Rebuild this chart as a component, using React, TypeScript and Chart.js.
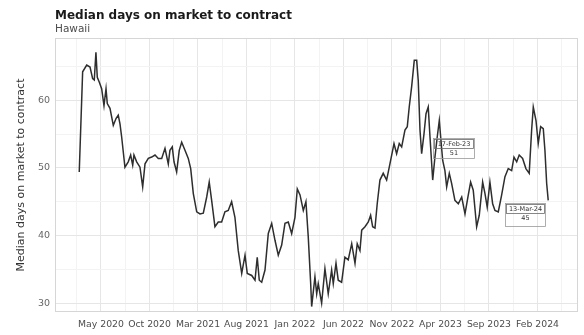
import { useEffect, useRef } from 'react';
import { Chart, registerables } from 'chart.js';

Chart.register(...registerables);

const chartTitle = 'Median days on market to contract';
const chartSubtitle = 'Hawaii';
const yAxisTitle = 'Median days on market to contract';

// x position of each observation, in months since Jan 2020
const monthIndex = [
  1.76, 2.11, 2.53, 2.87, 3.14, 3.31, 3.48, 3.62, 3.82, 4.07,
  4.31, 4.52, 4.65, 4.93, 5.27, 5.55, 5.78, 5.96, 6.13, 6.47,
  6.81, 7.06, 7.27, 7.4, 7.68, 8.02, 8.3, 8.54, 8.88, 9.23,
  9.57, 9.91, 10.26, 10.6, 10.94, 11.11, 11.35, 11.53, 11.8, 12.07,
  12.32, 12.66, 13.0, 13.25, 13.52, 13.87, 14.21, 14.55, 14.9, 15.16,
  15.41, 15.75, 16.09, 16.44, 16.78, 17.12, 17.47, 17.81, 18.15, 18.51,
  18.85, 19.08, 19.54, 19.88, 20.11, 20.32, 20.57, 20.91, 21.25, 21.6,
  21.94, 22.28, 22.63, 22.97, 23.31, 23.66, 24.0, 24.24, 24.52, 24.86,
  25.13, 25.37, 25.62, 25.72, 26.06, 26.24, 26.4, 26.75, 27.09, 27.43,
  27.78, 27.95, 28.23, 28.46, 28.81, 29.15, 29.49, 29.85, 30.19, 30.42,
  30.7, 30.88, 31.22, 31.56, 31.8, 32.01, 32.25, 32.48, 32.76, 33.1,
  33.45, 33.79, 34.21, 34.48, 34.75, 35.0, 35.34, 35.58, 35.78, 36.03,
  36.3, 36.55, 36.71, 36.89, 37.06, 37.3, 37.51, 37.74, 37.92, 38.2,
  38.43, 38.67, 38.88, 39.02, 39.23, 39.46, 39.64, 39.91, 40.15, 40.49,
  40.84, 41.19, 41.53, 41.87, 42.11, 42.38, 42.73, 43.0, 43.35, 43.59,
  43.82, 44.1, 44.38, 44.62, 44.96, 45.31, 45.65, 45.99, 46.34, 46.58,
  46.86, 47.12, 47.47, 47.81, 48.15, 48.4, 48.57, 48.85, 49.08, 49.33,
  49.6, 49.77, 49.95, 50.11,
];

const medianDays = [
  49.4, 64.2, 65.2, 64.9, 63.2, 63.0, 67.1, 63.4, 62.7, 61.7,
  59.2, 61.7, 59.5, 58.8, 56.3, 57.3, 57.8, 56.5, 54.6, 50.1,
  50.9, 51.9, 50.4, 51.9, 50.9, 50.1, 47.2, 50.6, 51.4, 51.6,
  51.9, 51.4, 51.4, 52.9, 50.6, 52.6, 53.1, 50.9, 49.4, 52.6,
  53.8, 52.6, 51.4, 49.9, 46.2, 43.5, 43.2, 43.3, 45.7, 47.9,
  45.2, 41.3, 42.0, 42.0, 43.5, 43.7, 45.0, 42.7, 37.8, 34.4,
  37.1, 34.4, 34.1, 33.4, 36.8, 33.4, 33.1, 34.9, 40.3, 41.8,
  39.3, 37.1, 38.6, 41.8, 42.0, 40.3, 42.7, 46.9, 46.0, 43.7,
  45.0, 39.8, 32.9, 29.5, 33.9, 31.4, 32.9, 30.0, 35.1, 31.4,
  34.9, 32.9, 35.9, 33.4, 33.1, 36.8, 36.4, 38.8, 35.9, 38.8,
  37.8, 40.8, 41.3, 42.0, 43.0, 41.3, 41.1, 44.7, 48.2, 49.2,
  48.2, 50.6, 53.6, 52.1, 53.6, 53.1, 55.6, 56.1, 59.0, 62.0,
  65.9, 65.9, 62.9, 55.6, 52.1, 55.0, 58.0, 59.0, 54.6, 48.2,
  51.6, 54.6, 57.0, 54.6, 51.1, 49.6, 47.2, 49.2, 47.7, 45.2,
  44.7, 45.7, 43.2, 46.0, 47.9, 46.7, 41.3, 43.0, 47.9, 46.2,
  44.2, 47.9, 44.7, 43.7, 43.5, 46.0, 48.7, 49.9, 49.6, 51.6,
  50.9, 51.9, 51.4, 49.9, 49.2, 55.6, 59.0, 57.0, 53.6, 56.1,
  55.8, 52.6, 47.7, 45.2,
];

const xTickMonths = [4, 9, 14, 19, 24, 29, 34, 39, 44, 49];
const xTickLabels = [
  'May 2020', 'Oct 2020', 'Mar 2021', 'Aug 2021', 'Jan 2022',
  'Jun 2022', 'Nov 2022', 'Apr 2023', 'Sep 2023', 'Feb 2024',
];
const yTickValues = [30, 40, 50, 60];

const annotationMonths = [38.43, 50.11];
const annotationValues = [51.6, 45.2];
const annotationDates = ['17-Feb-23', '13-Mar-24'];
const annotationTexts = ['51', '45'];

const FONT = '"DejaVu Sans", "Noto Sans", sans-serif';

export default function App() {
  const canvasRef = useRef<HTMLCanvasElement | null>(null);

  useEffect(() => {
    const canvas = canvasRef.current;
    if (!canvas) return;

    // box placement relative to the annotated point: [dx, dy, w, h]
    const boxGeom = [
      [-2, -19, 41, 20],
      [-43, 3, 40, 23],
    ];

    const decor = {
      id: 'decor',
      beforeDraw(chart: any) {
        const { ctx, width, height } = chart;
        ctx.save();
        ctx.fillStyle = '#ffffff';
        ctx.fillRect(0, 0, width, height);
        ctx.restore();
      },
      beforeDatasetsDraw(chart: any) {
        const { ctx, chartArea } = chart;
        ctx.save();
        ctx.strokeStyle = '#d6d6d6';
        ctx.lineWidth = 1;
        ctx.strokeRect(
          Math.round(chartArea.left) + 0.5,
          Math.round(chartArea.top) + 0.5,
          Math.round(chartArea.width) - 1,
          Math.round(chartArea.height) - 1
        );
        ctx.restore();
      },
      afterDraw(chart: any) {
        const { ctx } = chart;
        const xs = chart.scales.x;
        const ys = chart.scales.y;
        ctx.save();
        ctx.textBaseline = 'alphabetic';
        ctx.textAlign = 'left';
        ctx.fillStyle = '#1a1a1a';
        ctx.font = `bold 12px ${FONT}`;
        ctx.fillText(chartTitle, 55, 19);
        ctx.fillStyle = '#4d4d4d';
        ctx.font = `10.5px ${FONT}`;
        ctx.fillText(chartSubtitle, 55, 32);

        annotationMonths.forEach((m, i) => {
          const px = xs.getPixelForValue(m);
          const py = ys.getPixelForValue(annotationValues[i]);
          const [dx, dy, w, h] = boxGeom[i];
          const bx = Math.round(px + dx) + 0.5;
          const by = Math.round(py + dy) + 0.5;
          ctx.strokeStyle = '#9a9a9a';
          ctx.lineWidth = 0.8;
          ctx.strokeRect(bx, by, w, h);
          ctx.strokeStyle = '#6a6a6a';
          ctx.strokeRect(bx + 1, by + 1, w - 2, 9);
          ctx.fillStyle = '#333333';
          ctx.font = `6.5px ${FONT}`;
          ctx.textAlign = 'center';
          ctx.textBaseline = 'middle';
          ctx.fillText(annotationDates[i], bx + w / 2, by + 5.5);
          ctx.fillText(annotationTexts[i], bx + w / 2, by + 15);
        });
        ctx.restore();
      },
    };

    const chart = new Chart(canvas, {
      type: 'line',
      data: {
        datasets: [
          {
            label: chartTitle,
            data: monthIndex.map((m, i) => ({ x: m, y: medianDays[i] })),
            borderColor: '#2e2e2e',
            borderWidth: 1.5,
            pointRadius: 0,
            tension: 0,
            fill: false,
          },
        ],
      },
      options: {
        animation: false,
        responsive: false,
        devicePixelRatio: 1,
        layout: { padding: { top: 38, right: 6, bottom: 0, left: 0 } },
        plugins: {
          legend: { display: false },
          title: { display: false },
          tooltip: { enabled: false },
        },
        scales: {
          x: {
            type: 'linear',
            min: -0.74,
            max: 53.18,
            afterBuildTicks: (scale: any) => {
              const t: any[] = [];
              for (let v = 1.5; v <= 52; v += 2.5) t.push({ value: v });
              scale.ticks = t;
            },
            afterFit: (scale: any) => {
              scale.height = 23;
            },
            ticks: {
              autoSkip: false,
              maxRotation: 0,
              minRotation: 0,
              padding: 7,
              color: '#4d4d4d',
              font: { family: FONT, size: 9.3 },
              callback: (value: any) => {
                const idx = xTickMonths.findIndex((m) => Math.abs(m - Number(value)) < 0.01);
                return idx >= 0 ? xTickLabels[idx] : '';
              },
            },
            grid: {
              drawTicks: false,
              color: (ctx: any) => {
                const v = ctx.tick ? ctx.tick.value : 0;
                return xTickMonths.some((m) => Math.abs(m - v) < 0.01) ? '#e6e6e6' : '#f3f3f3';
              },
              lineWidth: 1,
            },
            border: { display: false },
          },
          y: {
            type: 'linear',
            min: 28.7,
            max: 69.2,
            afterBuildTicks: (scale: any) => {
              const t: any[] = [];
              for (let v = 30; v <= 65; v += 5) t.push({ value: v });
              scale.ticks = t;
            },
            afterFit: (scale: any) => {
              scale.width = 55;
            },
            ticks: {
              padding: 5,
              color: '#666666',
              font: { family: FONT, size: 9.5 },
              callback: (value: any) =>
                yTickValues.includes(Number(value)) ? String(value) : '',
            },
            grid: {
              drawTicks: false,
              color: (ctx: any) => {
                const v = ctx.tick ? ctx.tick.value : 0;
                return yTickValues.includes(v) ? '#e6e6e6' : '#f3f3f3';
              },
              lineWidth: 1,
            },
            border: { display: false },
            title: {
              display: true,
              text: yAxisTitle,
              color: '#333333',
              font: { family: FONT, size: 11 },
              padding: { top: 15, bottom: 0 },
            },
          },
        },
      },
      plugins: [decor],
    } as any);

    return () => {
      chart.destroy();
    };
  }, []);

  return (
    <div style={{ position: 'fixed', left: 0, top: 0, width: 584, height: 335, background: '#fff' }}>
      <canvas ref={canvasRef} width={584} height={335} style={{ display: 'block', width: 584, height: 335 }} />
    </div>
  );
}
